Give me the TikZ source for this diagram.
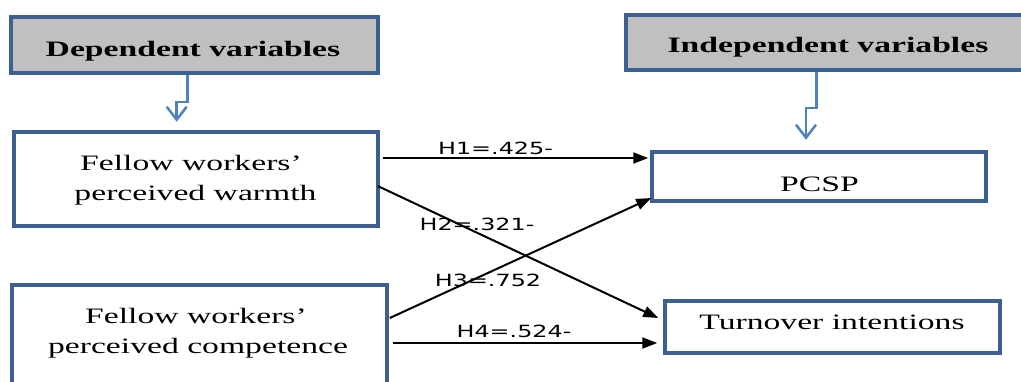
\documentclass[tikz,border=0pt]{standalone}
\usepackage{fontspec}
\setmainfont{Liberation Serif}
\newfontfamily\labfont{DejaVu Sans}
\usetikzlibrary{arrows.meta,calc}
\definecolor{boxblue}{RGB}{60,96,145}
\definecolor{arrblue}{RGB}{79,129,189}
\definecolor{hdrgray}{RGB}{192,192,192}
\begin{document}
\begin{tikzpicture}[x=1pt,y=-1pt,
  varbox/.style={draw=boxblue,line width=3.5pt,fill=white,rectangle,inner sep=0pt},
  hdrbox/.style={varbox,fill=hdrgray},
  boxtext/.style={anchor=base,inner sep=0pt,xscale=1.53,font=\fontsize{22}{26}\selectfont},
  hdrtext/.style={boxtext,font=\fontsize{22}{26}\selectfont\bfseries},
  labtext/.style={anchor=base,inner sep=0pt,xscale=1.42,font=\labfont\fontsize{16.8}{19}\selectfont},
  link/.style={draw=black,line width=2pt,-{Triangle[length=15pt,width=11pt]}},
  pointer/.style={draw=arrblue,line width=2.5pt,-{Straight Barb[length=13pt,width=20pt]}}]
\useasboundingbox (0,0) rectangle (1021,381);
\begin{scope}
\clip (0,0) rectangle (1021,381);
% boxes
\node[hdrbox,minimum width=367pt,minimum height=56pt] (dep) at (194.5,45) {};
\node[hdrbox,minimum width=404pt,minimum height=55pt] (indep) at (828,42.5) {};
\node[varbox,minimum width=364pt,minimum height=94pt] (warm) at (196,179) {};
\node[varbox,minimum width=375pt,minimum height=106pt] (comp) at (199.5,338) {};
\node[varbox,minimum width=334pt,minimum height=49pt] (pcsp) at (819,176.5) {};
\node[varbox,minimum width=335pt,minimum height=52pt] (turn) at (832.5,327) {};
% texts
\node[hdrtext] (deptxt) at (193,56.7) {Dependent variables};
\node[hdrtext] (indeptxt) at (828,52.3) {Independent variables};
\node[boxtext] (warm1) at (191,170.7) {Fellow workers’};
\node[boxtext] (warm2) at (195.5,200) {perceived warmth};
\node[boxtext] (comp1) at (196,323.3) {Fellow workers’};
\node[boxtext] (comp2) at (198,353.5) {perceived competence};
\node[boxtext] (pcsptxt) at (819.5,191) {PCSP};
\node[boxtext] (turntxt) at (832,329) {Turnover intentions};
\end{scope}
% pointers
\draw[pointer] ([xshift=-7pt]dep.south) -- ++(0,27) -| ([xshift=-19.3pt,yshift=8.5pt]warm.north);
\draw[pointer] ([xshift=-11.3pt]indep.south) -- ++(0,36.3) -| ([xshift=-13pt,yshift=10.5pt]pcsp.north);
% links
\draw[link] ([xshift=3pt,yshift=21pt]warm.east) -- ([xshift=-2pt,yshift=18.5pt]pcsp.west);
\draw[link] ([xshift=-2pt,yshift=-7pt]warm.east) -- ([xshift=-5pt,yshift=9pt]turn.west);
\draw[link] ([xshift=1pt,yshift=20pt]comp.east) -- ([xshift=1pt,yshift=-21.5pt]pcsp.west);
\draw[link] ([xshift=4pt,yshift=-5pt]comp.east) -- ([xshift=-6pt,yshift=-16pt]turn.west);
% labels
\node[labtext] (h1) at (495.5,154) {H1=.425-};
\node[labtext] (h2) at (477,230.7) {H2=.321-};
\node[labtext] (h3) at (488,286.7) {H3=.752};
\node[labtext] (h4) at (514,337.3) {H4=.524-};
\end{tikzpicture}
\end{document}
